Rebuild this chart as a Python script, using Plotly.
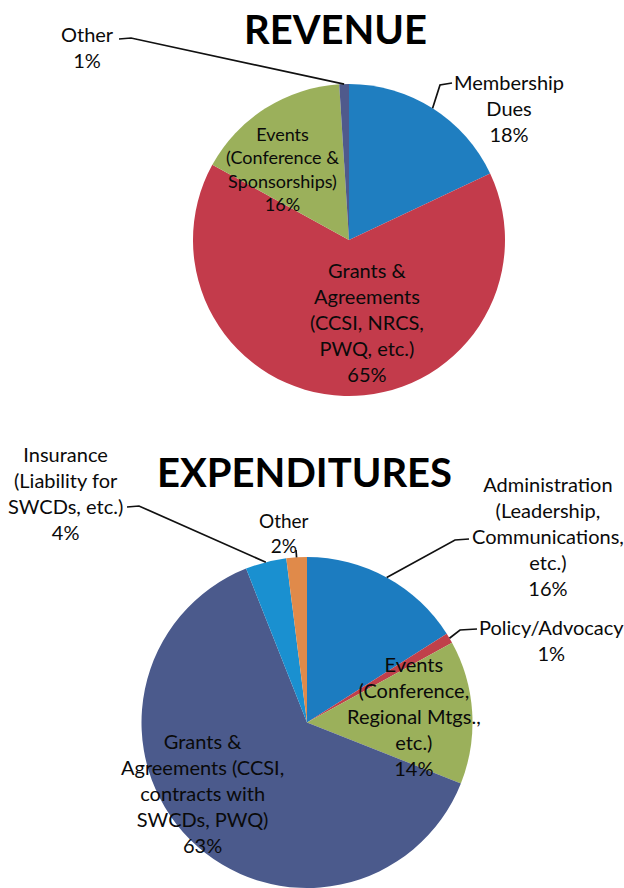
import plotly.graph_objects as go

W, H = 624, 888

# ---------------- data ----------------
rev_labels = ["Membership Dues", "Grants & Agreements (CCSI, NRCS, PWQ, etc.)",
              "Events (Conference & Sponsorships)", "Other"]
rev_values = [18, 65, 16, 1]
rev_colors = ["#1f7ec0", "#c33b4b", "#9bb05b", "#4f5a8c"]

exp_labels = ["Administration (Leadership, Communications, etc.)", "Policy/Advocacy",
              "Events (Conference, Regional Mtgs., etc.)",
              "Grants & Agreements (CCSI, contracts with SWCDs, PWQ)",
              "Insurance (Liability for SWCDs, etc.)", "Other"]
exp_values = [16, 1, 14, 63, 4, 2]
exp_colors = ["#1c7cc0", "#c0404a", "#9bb05b", "#4b5a8c", "#1a90d0", "#e08a4a"]

rev_text = ["Membership<br>Dues<br>18%",
            "Grants &<br>Agreements<br>(CCSI, NRCS,<br>PWQ, etc.)<br>65%",
            "Events<br>(Conference &<br>Sponsorships)<br>16%",
            "Other<br>1%"]
exp_text = ["Administration<br>(Leadership,<br>Communications,<br>etc.)<br>16%",
            "Policy/Advocacy<br>1%",
            "Events<br>(Conference,<br>Regional Mtgs.,<br>etc.)<br>14%",
            "Grants &<br>Agreements (CCSI,<br>contracts with<br>SWCDs, PWQ)<br>63%",
            "Insurance<br>(Liability for<br>SWCDs, etc.)<br>4%",
            "Other<br>2%"]

# ---------------- layout helpers ----------------
rev_dom = dict(x=[193 / W, 505 / W], y=[1 - 396 / H, 1 - 84 / H])
exp_dom = dict(x=[141 / W, 473 / W], y=[0.0, 1 - 557 / H])


def geom(dom):
    cx = (dom["x"][0] + dom["x"][1]) / 2 * W
    cy = (1 - (dom["y"][0] + dom["y"][1]) / 2) * H
    r = min((dom["x"][1] - dom["x"][0]) * W, (dom["y"][1] - dom["y"][0]) * H) / 2
    return cx, cy, r


def mid_point(values, i, dom, extra=0.0):
    import math
    cx, cy, r = geom(dom)
    tot = sum(values)
    f = (sum(values[:i]) + values[i] / 2) / tot
    th = math.radians(360 * f)
    return cx + (r + extra) * math.sin(th), cy - (r + extra) * math.cos(th)


def px(x, y):
    return x / W, 1 - y / H


fig = go.Figure()
for vals, labs, cols, dom in [(rev_values, rev_labels, rev_colors, rev_dom),
                              (exp_values, exp_labels, exp_colors, exp_dom)]:
    fig.add_trace(go.Pie(values=vals, labels=labs, marker=dict(colors=cols, line=dict(width=0)),
                         sort=False, direction="clockwise", rotation=0, textinfo="none",
                         hoverinfo="label+percent", showlegend=False, domain=dom))

FONT = "Lato, 'Open Sans', sans-serif"
TXT = "#0a0a0a"
annotations = []


def add_text(text, x, y, size=20):
    xx, yy = px(x, y)
    annotations.append(dict(text=text, x=xx, y=yy, xref="paper", yref="paper",
                            xanchor="center", yanchor="middle", showarrow=False,
                            font=dict(family=FONT, size=size, color=TXT)))


# titles
annotations.append(dict(text="<b>REVENUE</b>", x=335 / W, y=1 - 29 / H, xref="paper", yref="paper",
                        xanchor="center", yanchor="middle", showarrow=False,
                        font=dict(family=FONT, size=40, color="#000")))
annotations.append(dict(text="<b>EXPENDITURES</b>", x=304.5 / W, y=1 - 472 / H, xref="paper",
                        yref="paper", xanchor="center", yanchor="middle", showarrow=False,
                        font=dict(family=FONT, size=40, color="#000")))

# revenue labels
add_text(rev_text[0], 509, 108)
add_text(rev_text[1], 367, 322)
add_text(rev_text[2], 282, 169, size=18)
add_text(rev_text[3], 87, 47)

# expenditure labels
add_text(exp_text[0], 548, 535.5)
add_text(exp_text[1], 551, 639.5)
add_text(exp_text[2], 414, 716)
add_text(exp_text[3], 202, 793)
add_text(exp_text[4], 65, 493)
add_text(exp_text[5], 284, 533, size=19)

# leader lines
shapes = []


def leader(start, pts):
    seq = [start] + pts
    p = " ".join(("M" if k == 0 else "L") + f"{x / W:.5f},{1 - y / H:.5f}" for k, (x, y) in enumerate(seq))
    shapes.append(dict(type="path", path=p, xref="paper", yref="paper",
                       line=dict(color="#111", width=1.7)))


leader(mid_point(rev_values, 3, rev_dom), [(131, 38), (119, 39)])
leader(mid_point(rev_values, 0, rev_dom), [(440, 85), (452, 83)])
leader(mid_point(exp_values, 4, exp_dom), [(139, 506), (127, 507)])
leader(mid_point(exp_values, 5, exp_dom), [(296, 550)])
leader(mid_point(exp_values, 0, exp_dom), [(455, 540), (469, 539)])
leader(mid_point(exp_values, 1, exp_dom), [(460, 630), (477, 629)])

fig.update_layout(width=W, height=H, autosize=False, margin=dict(l=0, r=0, t=0, b=0),
                  paper_bgcolor="white", plot_bgcolor="white",
                  annotations=annotations, shapes=shapes)

fig.write_html("out.html")
